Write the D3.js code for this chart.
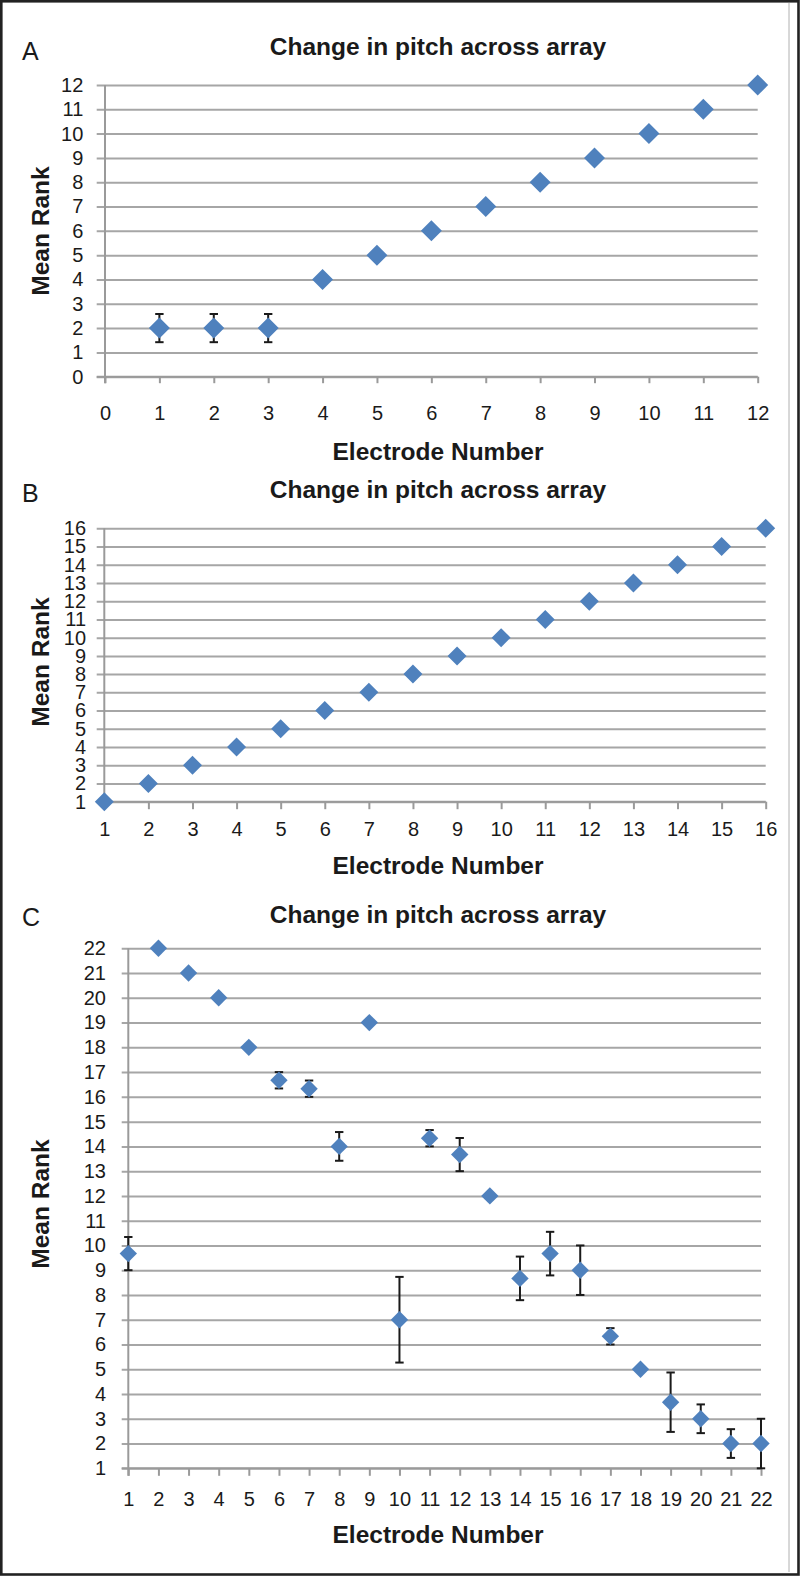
<!DOCTYPE html>
<html>
<head>
<meta charset="utf-8">
<script src="https://cdn.jsdelivr.net/npm/d3@7"></script>
<style>
  html, body { margin: 0; padding: 0; background: #fff; }
  svg { display: block; }
</style>
</head>
<body>
<svg id="chart" width="800" height="1576"></svg>
<script>
// ---------------- DATA ----------------
const panelLetters = ["A", "B", "C"];
const chartTitle = "Change in pitch across array";
const xAxisTitle = "Electrode Number";
const yAxisTitle = "Mean Rank";

const electrodesA = [1, 2, 3, 4, 5, 6, 7, 8, 9, 10, 11, 12];
const meanRankA   = [2, 2, 2, 4, 5, 6, 7, 8, 9, 10, 11, 12];
const errorA      = [0.58, 0.58, 0.58, 0, 0, 0, 0, 0, 0, 0, 0, 0];
const xTicksA     = [0, 1, 2, 3, 4, 5, 6, 7, 8, 9, 10, 11, 12];
const yTicksA     = [0, 1, 2, 3, 4, 5, 6, 7, 8, 9, 10, 11, 12];

const electrodesB = [1, 2, 3, 4, 5, 6, 7, 8, 9, 10, 11, 12, 13, 14, 15, 16];
const meanRankB   = [1, 2, 3, 4, 5, 6, 7, 8, 9, 10, 11, 12, 13, 14, 15, 16];
const errorB      = [0, 0, 0, 0, 0, 0, 0, 0, 0, 0, 0, 0, 0, 0, 0, 0];
const xTicksB     = [1, 2, 3, 4, 5, 6, 7, 8, 9, 10, 11, 12, 13, 14, 15, 16];
const yTicksB     = [1, 2, 3, 4, 5, 6, 7, 8, 9, 10, 11, 12, 13, 14, 15, 16];

const electrodesC = [1, 2, 3, 4, 5, 6, 7, 8, 9, 10, 11, 12, 13, 14, 15, 16, 17, 18, 19, 20, 21, 22];
const meanRankC   = [9.67, 22, 21, 20, 18, 16.67, 16.33, 14, 19, 7, 14.33, 13.67, 12, 8.67, 9.67, 9, 6.33, 5, 3.67, 3, 2, 2];
const errorC      = [0.67, 0, 0, 0, 0, 0.33, 0.33, 0.58, 0, 1.73, 0.33, 0.67, 0, 0.88, 0.88, 1.0, 0.33, 0, 1.2, 0.58, 0.58, 1.0];
const xTicksC     = [1, 2, 3, 4, 5, 6, 7, 8, 9, 10, 11, 12, 13, 14, 15, 16, 17, 18, 19, 20, 21, 22];
const yTicksC     = [1, 2, 3, 4, 5, 6, 7, 8, 9, 10, 11, 12, 13, 14, 15, 16, 17, 18, 19, 20, 21, 22];

// ---------------- LAYOUT ----------------
const FONT = '"Liberation Sans", Arial, Helvetica, sans-serif';
const MARK = "#4F81BD";
const GRID = "#a6a6a6";
const AXIS = "#9a9a9a";
const TEXT = "#1a1a1a";

const panels = [
  { letter: panelLetters[0], xs: electrodesA, ys: meanRankA, es: errorA, xTicks: xTicksA, yTicks: yTicksA,
    xDom: [0, 12], xRange: [105, 757.7], yDom: [0, 12], yRange: [376.7, 85],
    gridStart: 96.7, gridEnd: 757.7, yLabelRight: 83.3, xLabelBase: 420, tick: 6.5,
    titleBase: 55, letterBase: 60, xTitleBase: 460, yTitleCenter: 231, r: 10.5 },
  { letter: panelLetters[1], xs: electrodesB, ys: meanRankB, es: errorB, xTicks: xTicksB, yTicks: yTicksB,
    xDom: [1, 16], xRange: [104.3, 765.7], yDom: [1, 16], yRange: [801.7, 528.3],
    gridStart: 96.7, gridEnd: 765.7, yLabelRight: 86, xLabelBase: 836, tick: 7.5,
    titleBase: 498, letterBase: 502, xTitleBase: 874, yTitleCenter: 662, r: 9.5 },
  { letter: panelLetters[2], xs: electrodesC, ys: meanRankC, es: errorC, xTicks: xTicksC, yTicks: yTicksC,
    xDom: [1, 22], xRange: [128.3, 761], yDom: [1, 22], yRange: [1468.3, 948.3],
    gridStart: 121.7, gridEnd: 761, yLabelRight: 106, xLabelBase: 1506, tick: 7.5,
    titleBase: 923, letterBase: 926, xTitleBase: 1543, yTitleCenter: 1204, r: 8.7 }
];

const svg = d3.select("#chart");
svg.append("rect").attr("x", 0).attr("y", 0).attr("width", 800).attr("height", 1576).attr("fill", "#fff");

// thin inner right line and outer frame
svg.append("line").attr("x1", 789).attr("x2", 789).attr("y1", 3).attr("y2", 1572)
  .attr("stroke", "#b0b0b0").attr("stroke-width", 1);
svg.append("rect").attr("x", 1.3).attr("y", 1.3).attr("width", 797.2).attr("height", 1573.2)
  .attr("fill", "none").attr("stroke", "#222").attr("stroke-width", 2.6);

const titleCenterX = 438;

panels.forEach(p => {
  const g = svg.append("g");
  const x = d3.scaleLinear().domain(p.xDom).range(p.xRange);
  const y = d3.scaleLinear().domain(p.yDom).range(p.yRange);
  const fontSize = 20;

  // gridlines + y tick labels via axisLeft placed at grid end
  const gridLen = p.gridEnd - p.gridStart;
  const yAxis = d3.axisLeft(y).tickValues(p.yTicks).tickFormat(d3.format("d"))
    .tickSizeInner(gridLen).tickSizeOuter(0).tickPadding(p.gridStart - p.yLabelRight);
  const gy = g.append("g").attr("transform", `translate(${p.gridEnd},0)`).call(yAxis);
  gy.select(".domain").remove();
  gy.selectAll(".tick line").attr("stroke", GRID).attr("stroke-width", 2);
  gy.selectAll(".tick text").attr("fill", TEXT).attr("font-family", FONT).attr("font-size", fontSize);

  // x axis ticks + labels
  const xAxis = d3.axisBottom(x).tickValues(p.xTicks).tickFormat(d3.format("d"))
    .tickSizeInner(p.tick).tickSizeOuter(0);
  const offset = p.xLabelBase - p.yRange[0] - 0.71 * fontSize;
  xAxis.tickPadding(offset - p.tick);
  const gx = g.append("g").attr("transform", `translate(0,${p.yRange[0]})`).call(xAxis);
  gx.select(".domain").remove();
  gx.selectAll(".tick line").attr("stroke", AXIS).attr("stroke-width", 2);
  gx.selectAll(".tick text").attr("fill", TEXT).attr("font-family", FONT).attr("font-size", fontSize);

  // axis lines
  g.append("line").attr("x1", x(p.xDom[0])).attr("x2", x(p.xDom[0]))
    .attr("y1", y(p.yDom[1])).attr("y2", y(p.yDom[0]) + p.tick)
    .attr("stroke", AXIS).attr("stroke-width", 2);
  g.append("line").attr("x1", p.gridStart).attr("x2", p.gridEnd)
    .attr("y1", y(p.yDom[0])).attr("y2", y(p.yDom[0]))
    .attr("stroke", AXIS).attr("stroke-width", 2);

  const data = p.xs.map((v, i) => ({ x: v, y: p.ys[i], e: p.es[i] }));

  // error bars
  const eb = g.append("g").attr("stroke", "#1a1a1a").attr("stroke-width", 2).attr("fill", "none");
  data.filter(d => d.e > 0).forEach(d => {
    const cx = x(d.x), cw = 4.2;
    const yt = y(d.y + d.e), yb = y(d.y - d.e);
    eb.append("line").attr("x1", cx).attr("x2", cx).attr("y1", yt).attr("y2", yb);
    eb.append("line").attr("x1", cx - cw).attr("x2", cx + cw).attr("y1", yt).attr("y2", yt);
    eb.append("line").attr("x1", cx - cw).attr("x2", cx + cw).attr("y1", yb).attr("y2", yb);
  });

  // diamonds
  g.append("g").selectAll("path").data(data).join("path")
    .attr("d", d => {
      const cx = x(d.x), cy = y(d.y), r = p.r;
      return `M${cx},${cy - r}L${cx + r},${cy}L${cx},${cy + r}L${cx - r},${cy}Z`;
    })
    .attr("fill", MARK);

  // texts
  g.append("text").attr("x", 22).attr("y", p.letterBase).text(p.letter)
    .attr("font-family", FONT).attr("font-size", 25).attr("fill", TEXT);
  g.append("text").attr("x", titleCenterX).attr("y", p.titleBase).attr("text-anchor", "middle")
    .text(chartTitle).attr("font-family", FONT).attr("font-size", 24.5).attr("font-weight", "bold").attr("fill", TEXT);
  g.append("text").attr("x", titleCenterX).attr("y", p.xTitleBase).attr("text-anchor", "middle")
    .text(xAxisTitle).attr("font-family", FONT).attr("font-size", 24.5).attr("font-weight", "bold").attr("fill", TEXT);
  g.append("text").attr("transform", `translate(49,${p.yTitleCenter}) rotate(-90)`).attr("text-anchor", "middle")
    .text(yAxisTitle).attr("font-family", FONT).attr("font-size", 24.5).attr("font-weight", "bold").attr("fill", TEXT);
});
</script>
</body>
</html>
